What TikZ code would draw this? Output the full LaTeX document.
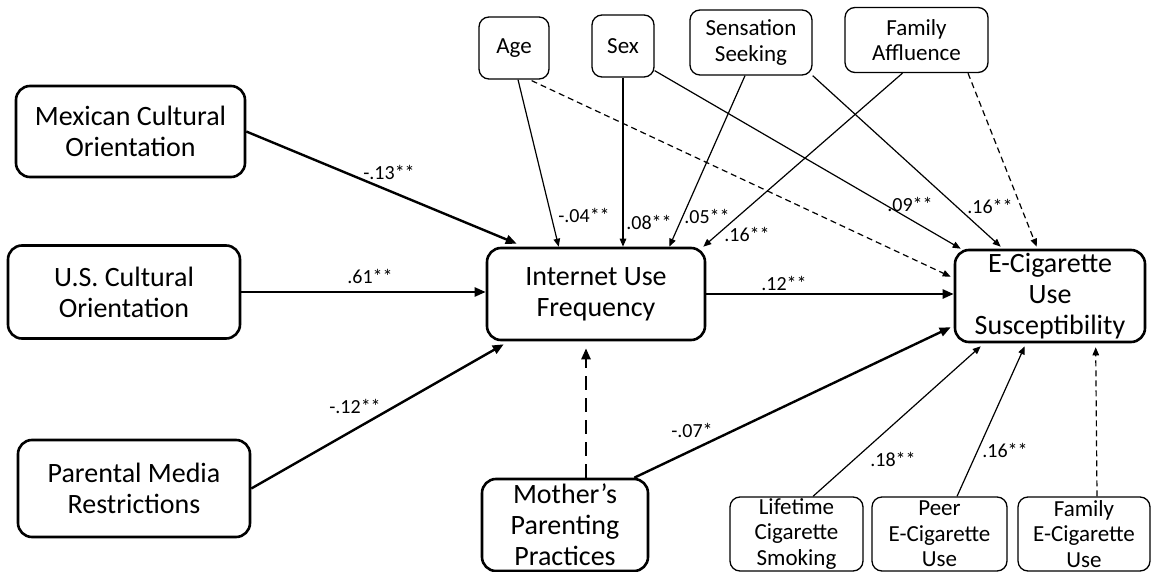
\documentclass[tikz,border=0pt]{standalone}
\usepackage{fontspec}
\setmainfont{Carlito}
\usetikzlibrary{arrows.meta,calc}
\begin{document}
\begin{tikzpicture}[x=1pt,y=-1pt,
 bigbox/.style={draw, line width=2.6pt, rounded corners=14pt, align=center, inner sep=0pt, font=\fontsize{28}{31}\selectfont},
 smallbox/.style={draw, line width=1.3pt, rounded corners=10pt, align=center, inner sep=0pt, font=\fontsize{23}{25.5}\selectfont},
 lbl/.style={font=\fontsize{20}{22}\selectfont, inner sep=0pt},
 thickarr/.style={line width=2.4pt, -{Triangle[length=11pt,width=9pt]}},
 thinarr/.style={line width=1.2pt, -{Triangle[length=8pt,width=6.5pt]}},
 thindash/.style={thinarr, dash pattern=on 6pt off 4pt},
 thickdash/.style={thickarr, dash pattern=on 14pt off 8pt},
]
\fill[white] (0,0) rectangle (1151,572);
\useasboundingbox (0,0) rectangle (1151,572);

% main boxes
\node[bigbox, minimum width=229pt, minimum height=91pt] (mex) at (130.5,131.5) {Mexican Cultural\\Orientation};
\node[bigbox, minimum width=232pt, minimum height=93pt] (us) at (124,292) {U.S. Cultural\\Orientation};
\node[bigbox, minimum width=232pt, minimum height=97pt] (par) at (134,488.5) {Parental Media\\Restrictions};
\node[bigbox, minimum width=218pt, minimum height=92pt] (inet) at (596,294) {Internet Use\\Frequency};
\node[bigbox, minimum width=190pt, minimum height=92pt] (ecig) at (1050,296) {E-Cigarette\\Use\\Susceptibility};
\node[bigbox, minimum width=166pt, minimum height=92pt] (mom) at (565,525) {Mother’s\\Parenting\\Practices};

% small boxes
\node[smallbox, minimum width=70pt, minimum height=62pt] (age) at (514,48) {Age};
\node[smallbox, minimum width=62pt, minimum height=62pt] (sex) at (623,46) {Sex};
\node[smallbox, minimum width=122pt, minimum height=65pt] (sens) at (751,42.5) {Sensation\\Seeking};
\node[smallbox, minimum width=143pt, minimum height=65pt] (fam) at (916.5,40) {Family\\Affluence};
\node[smallbox, minimum width=133pt, minimum height=74pt] (life) at (796.5,534) {Lifetime\\Cigarette\\Smoking};
\node[smallbox, minimum width=135pt, minimum height=74pt] (peer) at (939.5,534) {Peer\\E-Cigarette\\Use};
\node[smallbox, minimum width=132pt, minimum height=74pt] (fecig) at (1084,534) {Family\\E-Cigarette\\Use};

% thick paths
\draw[thickarr] (mex.east) -- ($(inet.north west)+(31,-3)$);
\draw[thickarr] (us.east) -- (us.east -| inet.west);
\draw[thickarr] (par.east) -- ($(inet.south west)+(18,3)$);
\draw[thickarr] (inet.east) -- (inet.east -| ecig.west);
\draw[thickdash] ($(mom.north)+(21,0)$) -- ($(inet.south)+(-10,7)$);
\draw[thickarr] ($(mom.north east)+(-15,0)$) -- ($(ecig.south west)+(-3,-16)$);

% thin paths from top covariates
\draw[thinarr] ($(age.south)+(4,0)$) -- ($(inet.north west)+(73,0)$);
\draw[thindash] ($(age.south east)+(-18,1)$) -- ($(ecig.north west)+(-3,28)$);
\draw[thinarr] (sex.south) -- (sex.south |- inet.north);
\draw[thinarr] ($(sex.south east)+(0,-7)$) -- ($(ecig.north west)+(7,0)$);
\draw[thinarr] ($(sens.south)+(-6,0)$) -- ($(inet.north east)+(-37,0)$);
\draw[thinarr] (sens.south east) -- ($(ecig.north west)+(47,-2)$);
\draw[thinarr] ($(fam.south)+(-14,0)$) -- ($(inet.north east)+(-3,0)$);
\draw[thindash] ($(fam.south)+(51.5,0)$) -- ($(ecig.north west)+(83,-2)$);

% thin paths from bottom covariates
\draw[thinarr] ($(life.north)+(16.5,0)$) -- ($(ecig.south west)+(27,3)$);
\draw[thinarr] ($(peer.north)+(17.5,0)$) -- ($(ecig.south west)+(71,3)$);
\draw[thindash] ($(fecig.north)+(13,0)$) -- ($(ecig.south west)+(142,4)$);

% labels
\node[lbl] (l1) at (389,172) {-.13**};
\node[lbl] (l2) at (370,276) {.61**};
\node[lbl] (l3) at (355,406) {-.12**};
\node[lbl] (l4) at (784,283) {.12**};
\node[lbl] (l5) at (692,430) {-.07*};
\node[lbl] (l6) at (584,215) {-.04**};
\node[lbl] (l7) at (649,222) {.08**};
\node[lbl] (l8) at (707,216) {.05**};
\node[lbl] (l9) at (747,234) {.16**};
\node[lbl] (l10) at (910,204) {.09**};
\node[lbl] (l11) at (990,206) {.16**};
\node[lbl] (l12) at (893,459) {.18**};
\node[lbl] (l13) at (1005,450) {.16**};
\end{tikzpicture}
\end{document}
